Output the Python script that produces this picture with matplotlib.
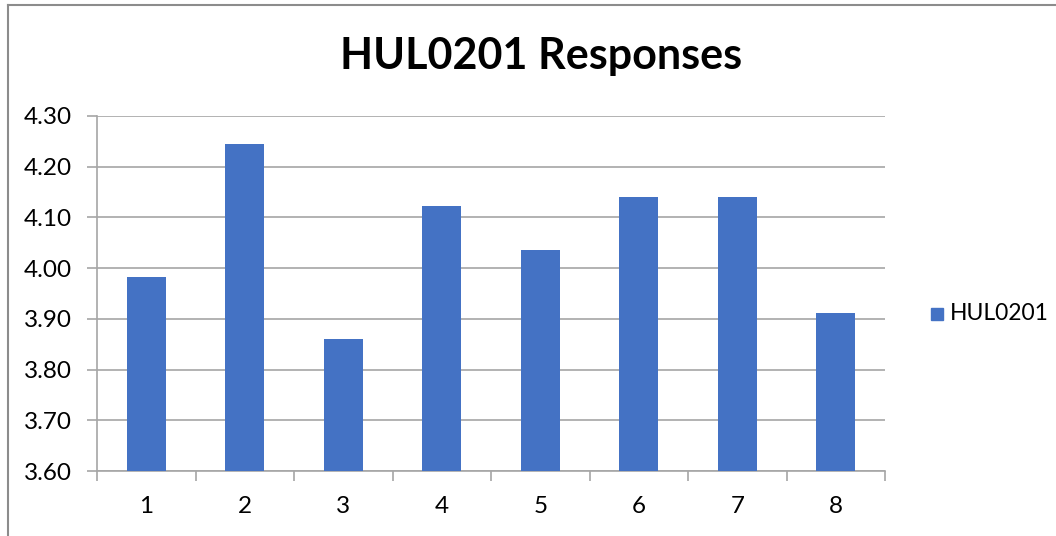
import matplotlib.pyplot as plt
from matplotlib.lines import Line2D
import matplotlib.patches as patches

categories = ["1", "2", "3", "4", "5", "6", "7", "8"]
values = [3.982, 4.245, 3.860, 4.122, 4.035, 4.140, 4.140, 3.912]
series_name = "HUL0201"
title = "HUL0201 Responses"
yticks = [3.60, 3.70, 3.80, 3.90, 4.00, 4.10, 4.20, 4.30]

bar_color = "#4472C4"
grid_color = "#A6A6A6"
font = "Lato"

W, H = 1056, 536
fig = plt.figure(figsize=(W / 100, H / 100), dpi=100)
ax = fig.add_axes([97 / W, 1 - 471 / H, (885 - 97) / W, (471 - 116) / H])

x = list(range(len(categories)))
ax.bar(x, values, width=0.4, color=bar_color, zorder=3)

ax.set_ylim(3.60, 4.30)
ax.set_xlim(-0.5, len(categories) - 0.5)
ax.set_yticks(yticks)
ax.set_yticklabels([f"{v:.2f}" for v in yticks], fontsize=17.5, family=font)
ax.yaxis.grid(True, color=grid_color, linewidth=1.2, zorder=0)

ax.set_xticks(x)
ax.set_xticklabels(categories, fontsize=17.5, family=font)
ax.tick_params(axis="x", length=0, pad=18)
ax.tick_params(axis="y", length=7, color=grid_color, width=1.2, pad=11)
# category boundary ticks along the bottom
ax.set_xticks([i - 0.5 for i in range(len(categories) + 1)], minor=True)
ax.tick_params(axis="x", which="minor", length=7, color=grid_color, width=1.2)

for s in ["top", "right"]:
    ax.spines[s].set_visible(False)
ax.spines["left"].set_color(grid_color)
ax.spines["bottom"].set_color(grid_color)
ax.spines["left"].set_linewidth(1.2)
ax.spines["bottom"].set_linewidth(1.2)

fig.text(541 / W, 1 - 56 / H, title, ha="center", va="center",
         fontsize=31, fontweight="bold", family=font)

# legend
fig.patches.append(patches.Rectangle((931 / W, 1 - 320 / H), 12 / W, 12 / H,
                                     transform=fig.transFigure, color=bar_color))
fig.text(950 / W, 1 - 314 / H, series_name, ha="left", va="center",
         fontsize=16.5, family=font)

# chart frame (left and top edges visible)
fig.lines.append(Line2D([8 / W, 8 / W], [0, 1 - 4.5 / H], transform=fig.transFigure,
                        color="#8C8C8C", linewidth=1.5))
fig.lines.append(Line2D([8 / W, 1], [1 - 4.5 / H, 1 - 4.5 / H], transform=fig.transFigure,
                        color="#8C8C8C", linewidth=1.5))

fig.savefig("out.png", dpi=100)
